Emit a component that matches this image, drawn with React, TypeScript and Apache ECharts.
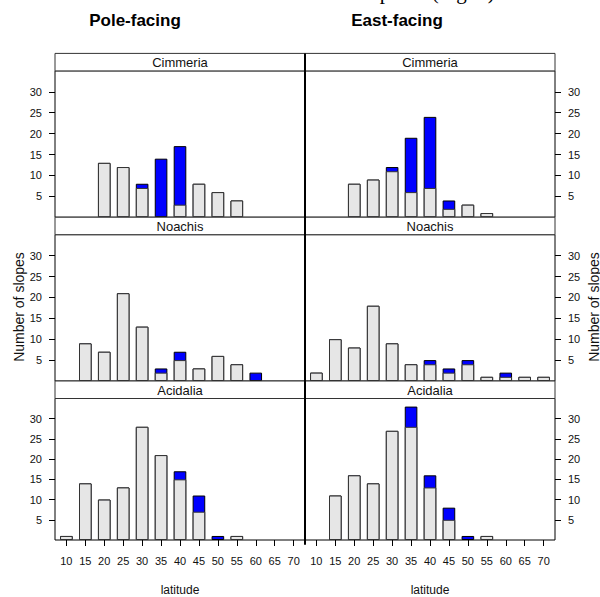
import React, { useEffect, useRef } from "react";
import * as echarts from "echarts";

const latitudes = [10, 15, 20, 25, 30, 35, 40, 45, 50, 55, 60, 65, 70];
const yTicks = [5, 10, 15, 20, 25, 30];
const regions = ["Cimmeria", "Noachis", "Acidalia"];
const facings = ["Pole-facing", "East-facing"];

// lower (grey) and upper (blue) parts of each stacked bar
const cimmeriaPoleGray = [0, 0, 13, 12, 7, 0, 3, 8, 6, 4, 0, 0, 0];
const cimmeriaPoleBlue = [0, 0, 0, 0, 1, 14, 14, 0, 0, 0, 0, 0, 0];
const cimmeriaEastGray = [0, 0, 8, 9, 11, 6, 7, 2, 3, 1, 0, 0, 0];
const cimmeriaEastBlue = [0, 0, 0, 0, 1, 13, 17, 2, 0, 0, 0, 0, 0];
const noachisPoleGray = [0, 9, 7, 21, 13, 2, 5, 3, 6, 4, 0, 0, 0];
const noachisPoleBlue = [0, 0, 0, 0, 0, 1, 2, 0, 0, 0, 2, 0, 0];
const noachisEastGray = [2, 10, 8, 18, 9, 4, 4, 2, 4, 1, 1, 1, 1];
const noachisEastBlue = [0, 0, 0, 0, 0, 0, 1, 1, 1, 0, 1, 0, 0];
const acidaliaPoleGray = [1, 14, 10, 13, 28, 21, 15, 7, 0, 1, 0, 0, 0];
const acidaliaPoleBlue = [0, 0, 0, 0, 0, 0, 2, 4, 1, 0, 0, 0, 0];
const acidaliaEastGray = [0, 11, 16, 14, 27, 28, 13, 5, 0, 1, 0, 0, 0];
const acidaliaEastBlue = [0, 0, 0, 0, 0, 5, 3, 3, 1, 0, 0, 0, 0];

const panelData = [
  [
    [cimmeriaPoleGray, cimmeriaPoleBlue],
    [cimmeriaEastGray, cimmeriaEastBlue],
  ],
  [
    [noachisPoleGray, noachisPoleBlue],
    [noachisEastGray, noachisEastBlue],
  ],
  [
    [acidaliaPoleGray, acidaliaPoleBlue],
    [acidaliaEastGray, acidaliaEastBlue],
  ],
];

const FONT = "'Liberation Sans', Arial, Helvetica, sans-serif";
const colLeft = [55, 305];
const colW = 250;
const row0 = 53.4;
const stripH = 17.5;
const plotH = 146.3;
const rowStep = stripH + plotH;

export default function App() {
  const ref = useRef<HTMLDivElement>(null);
  useEffect(() => {
    if (!ref.current) return;
    const chart = echarts.init(ref.current, null, { renderer: "svg" });
    const grid: any[] = [];
    const xAxis: any[] = [];
    const yAxis: any[] = [];
    const series: any[] = [];
    const graphic: any[] = [];

    for (let r = 0; r < 3; r++) {
      for (let c = 0; c < 2; c++) {
        const idx = r * 2 + c;
        const top = row0 + r * rowStep;
        grid.push({
          left: colLeft[c],
          top: top + stripH,
          width: colW,
          height: plotH,
          show: true,
          borderColor: "#000",
          borderWidth: 1,
          backgroundColor: "transparent",
        });
        const bottom = r === 2;
        xAxis.push({
          type: "value",
          gridIndex: idx,
          min: 7,
          max: 73,
          axisLine: { show: false },
          splitLine: { show: false },
          axisTick: {
            show: bottom,
            customValues: latitudes,
            length: 6,
            lineStyle: { color: "#000" },
          },
          axisLabel: {
            show: bottom,
            customValues: latitudes,
            margin: 15,
            fontSize: 11,
            color: "#111",
            fontFamily: FONT,
          },
          name: bottom ? "latitude" : "",
          nameLocation: "middle",
          nameGap: 44,
          nameTextStyle: { fontSize: 12, color: "#111", fontFamily: FONT },
        });
        yAxis.push({
          type: "value",
          gridIndex: idx,
          min: 0,
          max: 35,
          position: c === 0 ? "left" : "right",
          axisLine: { show: false },
          splitLine: { show: false },
          axisTick: {
            show: true,
            customValues: yTicks,
            length: 6,
            lineStyle: { color: "#000" },
          },
          axisLabel: {
            show: true,
            customValues: yTicks,
            margin: 13,
            fontSize: 11,
            color: "#111",
            fontFamily: FONT,
          },
        });
        const [gray, blue] = panelData[r][c];
        // full bar (grey + blue) drawn in blue behind, grey part drawn on top
        series.push({
          type: "bar",
          xAxisIndex: idx,
          yAxisIndex: idx,
          barWidth: 12.6,
          barGap: "-100%",
          z: 2,
          data: latitudes.map((lat, i) => {
            const total = gray[i] + blue[i];
            return [lat, total > 0 ? total : "-"];
          }),
          itemStyle: { color: "#0000ff", borderColor: "#000", borderWidth: 1 },
        });
        series.push({
          type: "bar",
          xAxisIndex: idx,
          yAxisIndex: idx,
          barWidth: 12.6,
          barGap: "-100%",
          z: 3,
          data: latitudes.map((lat, i) => [lat, gray[i] > 0 ? gray[i] : "-"]),
          itemStyle: { color: "#e6e6e6", borderColor: "#333", borderWidth: 1 },
        });
        // strip
        graphic.push({
          type: "rect",
          shape: { x: colLeft[c], y: top, width: colW, height: stripH },
          style: { fill: "#fff", stroke: "#333", lineWidth: 1 },
          z: 10,
        });
        graphic.push({
          type: "text",
          x: colLeft[c] + colW / 2,
          y: top + stripH / 2 + 0.5,
          style: {
            text: regions[r],
            fontSize: 13,
            fontFamily: FONT,
            fill: "#111",
            align: "center",
            verticalAlign: "middle",
          },
          z: 11,
        });
      }
    }

    // thick divider between the columns
    graphic.push({
      type: "line",
      shape: { x1: 305, y1: row0, x2: 305, y2: row0 + 3 * rowStep },
      style: { stroke: "#000", lineWidth: 2 },
      z: 12,
    });
    // column titles
    const titleX = [135, 397];
    facings.forEach((f, i) => {
      graphic.push({
        type: "text",
        x: titleX[i],
        y: 20,
        style: {
          text: f,
          fontSize: 17,
          fontWeight: "bold",
          fontFamily: FONT,
          fill: "#000",
          align: "center",
          verticalAlign: "middle",
        },
      });
    });
    // y axis titles
    [19, 594].forEach((x) => {
      graphic.push({
        type: "text",
        x,
        y: 307,
        rotation: Math.PI / 2,
        style: {
          text: "Number of slopes",
          fontSize: 14,
          fontFamily: FONT,
          fill: "#111",
          align: "center",
          verticalAlign: "middle",
        },
      });
    });
    // clipped caption line of the surrounding document
    graphic.push({
      type: "text",
      x: 500,
      y: 2,
      style: {
        text: "latitudes of the southern hemisphere (Fig. 3).",
        fontSize: 21,
        fontFamily: "'Liberation Serif', 'Times New Roman', serif",
        fill: "#000",
        align: "right",
        verticalAlign: "bottom",
      },
    });

    chart.setOption({
      animation: false,
      backgroundColor: "#fff",
      grid,
      xAxis,
      yAxis,
      series,
      graphic,
    });
    return () => chart.dispose();
  }, []);
  return (
    <div
      ref={ref}
      style={{ position: "fixed", left: 0, top: 0, width: 600, height: 597 }}
    />
  );
}
